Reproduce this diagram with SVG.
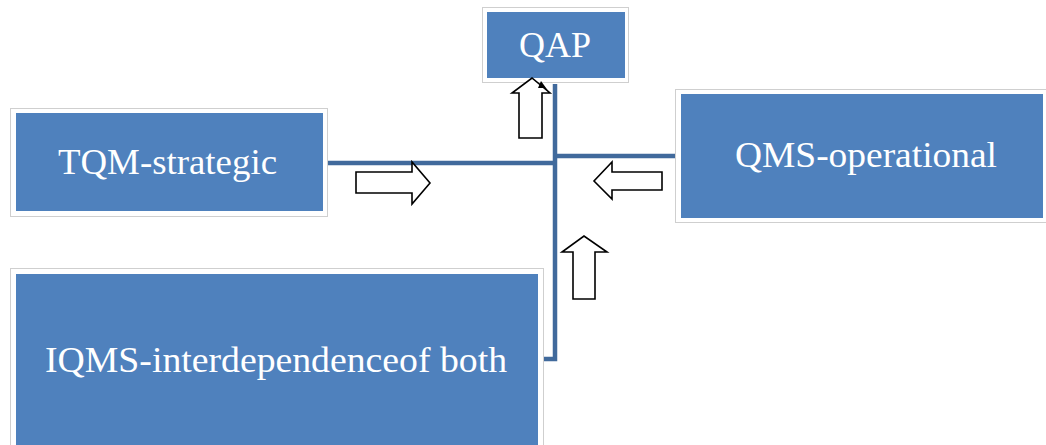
<svg xmlns="http://www.w3.org/2000/svg" width="1046" height="445" viewBox="0 0 1046 445">
<style>
.frame{fill:#ffffff;stroke:#cfcfcf;stroke-width:1}
.box{fill:#4f81bd}
.lbl{font-family:"Liberation Serif","Times New Roman",serif;font-size:36px;fill:#ffffff}
.conn{fill:none;stroke:#416a9c;stroke-width:4.5;stroke-linejoin:miter}
.arr{fill:#ffffff;stroke:#000000;stroke-width:1.6;stroke-linejoin:miter}
</style>
<rect width="1046" height="445" fill="#ffffff"/>
<g id="connectors">
<path class="conn" d="M555,84 V359 H543"/>
<path class="conn" d="M327,163 H555"/>
<path class="conn" d="M555,156 H676"/>
</g>
<g id="qap">
<rect class="frame" x="482.5" y="7.5" width="146" height="75"/>
<rect class="box" x="487" y="12" width="138" height="66"/>
<text class="lbl" x="555" y="57" text-anchor="middle" textLength="72" lengthAdjust="spacingAndGlyphs">QAP</text>
</g>
<g id="tqm">
<rect class="frame" x="10.5" y="108.5" width="317" height="108"/>
<rect class="box" x="16" y="113" width="307" height="98"/>
<text class="lbl" x="58" y="174" textLength="219" lengthAdjust="spacingAndGlyphs">TQM-strategic</text>
</g>
<g id="qms">
<rect class="frame" x="675.5" y="89.5" width="372" height="133"/>
<rect class="box" x="681" y="94" width="362" height="124"/>
<text class="lbl" x="735" y="167" textLength="262" lengthAdjust="spacingAndGlyphs">QMS-operational</text>
</g>
<g id="iqms">
<rect class="frame" x="10.5" y="268.5" width="533" height="180"/>
<rect class="box" x="16" y="274" width="522" height="175"/>
<text class="lbl" x="45" y="372" textLength="462" lengthAdjust="spacingAndGlyphs">IQMS-interdependenceof both</text>
</g>
<g id="arrows">
<polygon class="arr" points="356,172 412,172 412,162 430,183 412,204 412,193 356,193"/>
<polygon class="arr" points="662,172 612,172 612,162 594,181 612,199 612,190 662,190"/>
<polygon class="arr" points="573,299 573,252 562,252 584,236 607,252 595,252 595,299"/>
<polygon class="arr" points="519,138 519,93 512,93 532,78 550,93 542,93 542,138"/>
<polygon fill="#000000" points="541,81 549,92 544,88 538,88"/>
</g>
</svg>
